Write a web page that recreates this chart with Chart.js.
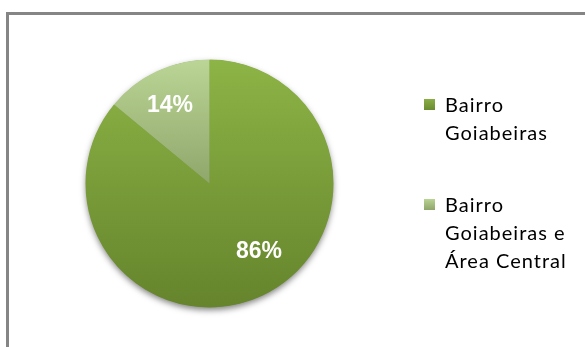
<!DOCTYPE html>
<html>
<head>
<meta charset="utf-8">
<script src="https://cdn.jsdelivr.net/npm/chart.js@4"></script>
<style>
  body { margin: 0; background: #fff; overflow: hidden; }
  #wrap { position: relative; width: 585px; height: 347px; }
  #frame { position: absolute; left: 6px; top: 12px; width: 700px; height: 500px;
           border-top: 3px solid #858585; border-left: 3px solid #858585; }
  #grafico { position: absolute; left: 0; top: 0; }
</style>
</head>
<body>
<div id="wrap">
  <div id="frame"></div>
  <canvas id="grafico" width="585" height="347"></canvas>
</div>
<script>
// dados
const categorias = [
  ["Bairro", "Goiabeiras"],
  ["Bairro", "Goiabeiras e", "Área Central"]
];
const percentuais = [86, 14];

// cores (gradiente vertical: topo -> base)
const coresTopo = ["#8db446", "#bad596"];
const coresBase = ["#65842c", "#66783f"];
const coresLegendaTopo = ["#8aae45", "#b9d494"];
const coresLegendaBase = ["#6a8b30", "#8fa56b"];

// posicao dos rotulos: angulo a partir do topo (graus) e fracao do raio
const rotuloAngulo = [143.8, 333.3];
const rotuloRaio = [0.675, 0.71];

function gradiente(ctx, i) {
  const area = ctx.chart.chartArea;
  if (!area) {
    return coresTopo[i];
  }
  let g = ctx.chart.ctx.createLinearGradient(0, area.top, 0, area.bottom);
  g.addColorStop(0, coresTopo[i]);
  g.addColorStop(1, coresBase[i]);
  return g;
}

const sombra = {
  id: "sombra",
  beforeDatasetsDraw(chart) {
    let arco = chart.getDatasetMeta(0).data[0];
    if (!arco) return;
    let c = chart.ctx;
    c.save();
    c.shadowColor = "rgba(0,0,0,0.5)";
    c.shadowBlur = 6;
    c.shadowOffsetY = 3;
    c.fillStyle = "#6f8f33";
    c.beginPath();
    c.arc(arco.x, arco.y, arco.outerRadius - 0.5, 0, Math.PI * 2);
    c.fill();
    c.restore();
  }
};

const rotulos = {
  id: "rotulos",
  afterDatasetsDraw(chart) {
    let c = chart.ctx;
    let meta = chart.getDatasetMeta(0);
    c.save();
    c.font = "bold 23px 'Liberation Sans', Arial, sans-serif";
    c.fillStyle = "#ffffff";
    c.textAlign = "center";
    c.textBaseline = "middle";
    for (let i = 0; i < meta.data.length; i++) {
      let arco = meta.data[i];
      let a = rotuloAngulo[i] * Math.PI / 180;
      let r = arco.outerRadius * rotuloRaio[i];
      let x = arco.x + Math.sin(a) * r;
      let y = arco.y - Math.cos(a) * r;
      c.fillText(percentuais[i] + "%", x, y + 1);
    }
    c.restore();
  }
};

const legenda = {
  id: "legenda",
  afterDraw(chart) {
    let c = chart.ctx;
    let x0 = 424;
    let y = 99;
    let caixa = 11;
    let linha = 28;
    let espaco = 44;
    c.save();
    c.font = "20px Lato, sans-serif";
    c.letterSpacing = "1px";
    c.fillStyle = "#000000";
    c.textBaseline = "alphabetic";
    for (let i = 0; i < categorias.length; i++) {
      let g = c.createLinearGradient(0, y, 0, y + caixa);
      g.addColorStop(0, coresLegendaTopo[i]);
      g.addColorStop(1, coresLegendaBase[i]);
      c.fillStyle = g;
      c.fillRect(x0, y, caixa, caixa);
      c.fillStyle = "#000000";
      for (let j = 0; j < categorias[i].length; j++) {
        c.fillText(categorias[i][j], x0 + 21, y + 12.5 + j * linha);
      }
      y += categorias[i].length * linha + espaco;
    }
    c.restore();
  }
};

new Chart(document.getElementById("grafico"), {
  type: "pie",
  data: {
    labels: categorias,
    datasets: [{
      data: percentuais,
      backgroundColor: function(ctx) { return gradiente(ctx, ctx.dataIndex); },
      borderWidth: 0
    }]
  },
  options: {
    responsive: false,
    animation: false,
    layout: {
      padding: { left: 85.5, top: 59.5, right: 251.5, bottom: 39.5 }
    },
    plugins: {
      legend: { display: false },
      tooltip: { enabled: false }
    }
  },
  plugins: [sombra, rotulos, legenda]
});
</script>
</body>
</html>
